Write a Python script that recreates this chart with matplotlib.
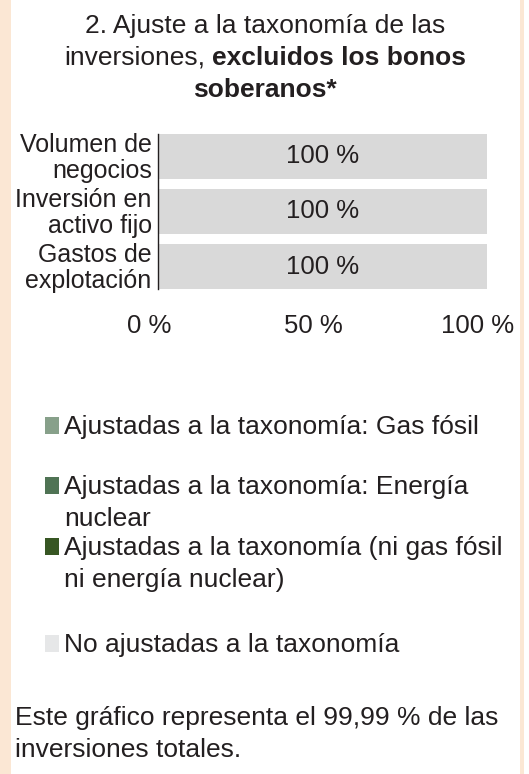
import matplotlib
matplotlib.use("Agg")
import numpy as np
import matplotlib.pyplot as plt
from matplotlib.patches import Rectangle
from matplotlib.transforms import ScaledTranslation

plt.rcParams['font.family'] = ['Liberation Sans', 'DejaVu Sans']

# data
categories = ["Volumen de\nnegocios", "Inversión en\nactivo fijo", "Gastos de\nexplotación"]
gas_fosil = [0, 0, 0]
energia_nuclear = [0, 0, 0]
otras_ajustadas = [0, 0, 0]
no_ajustadas = [100, 100, 100]
xticks = [0, 50, 100]
xtick_labels = ["0 %", "50 %", "100 %"]
legend_labels = [
    ["Ajustadas a la taxonomía: Gas fósil"],
    ["Ajustadas a la taxonomía: Energía", "nuclear"],
    ["Ajustadas a la taxonomía (ni gas fósil", "ni energía nuclear)"],
    ["No ajustadas a la taxonomía"],
]
title_lines = ["2. Ajuste a la taxonomía de las", "inversiones,", "excluidos los bonos", "soberanos*"]
footer_lines = ["Este gráfico representa el 99,99 % de las", "inversiones totales."]

bar_colors = ['#87a08a', '#4f7354', '#375623', '#d9d9d9']
legend_colors = ['#87a08a', '#4f7354', '#375623', '#e6e7e8']
TXT = '#231f20'
BORDER = '#fbe7d4'

W, H = 529, 774


def fx(px):
    return px / W


def fy(py):
    return 1 - py / H


fig = plt.figure(figsize=(W / 100, H / 100), dpi=100)
fig.patch.set_facecolor('white')

# peach side strips
fig.patches.append(Rectangle((0, 0), fx(11), 1, transform=fig.transFigure,
                             facecolor=BORDER, edgecolor='none', zorder=0))
fig.patches.append(Rectangle((fx(520), 0), fx(3.5), 1, transform=fig.transFigure,
                             facecolor=BORDER, edgecolor='none', zorder=0))

# bar chart
ax = fig.add_axes([fx(158), fy(289), fx(329), 155 / H])
y = np.arange(len(categories))
series = [gas_fosil, energia_nuclear, otras_ajustadas, no_ajustadas]
left = np.zeros(len(categories))
for vals, c in zip(series, bar_colors):
    bars = ax.barh(y, vals, left=left, height=0.81, color=c, linewidth=0)
    left += np.array(vals)
ax.bar_label(bars, labels=[f"{v} %" for v in no_ajustadas], label_type='center',
             fontsize=18.5, color=TXT)

ax.set_xlim(0, 100)
ax.set_ylim(2.405, -0.405)
for s in ['top', 'right', 'bottom']:
    ax.spines[s].set_visible(False)
ax.spines['left'].set_color(TXT)
ax.spines['left'].set_linewidth(1.0)

ax.set_yticks(y, categories, fontsize=18, linespacing=1.09, color=TXT)
ax.tick_params(axis='y', length=0, pad=4.5)
ax.set_xticks(xticks, xtick_labels, fontsize=18.5, color=TXT)
ax.tick_params(axis='x', length=0, pad=31.7)

shift_x = ScaledTranslation(-9 / 100, 0, fig.dpi_scale_trans)
for lab in ax.get_xticklabels():
    lab.set_va('baseline')
    lab.set_transform(lab.get_transform() + shift_x)
# baseline of the last line sits a bit below the bar centre
shift_y = ScaledTranslation(0, -21.5 / 100, fig.dpi_scale_trans)
for lab in ax.get_yticklabels():
    lab.set_va('baseline')
    lab.set_transform(lab.get_transform() + shift_y)

# title, with the bold part on line two
fs = 19
cx = 265
fig.text(fx(cx), fy(33), title_lines[0], ha='center', va='baseline', fontsize=fs, color=TXT)
r = fig.canvas.get_renderer()
t_reg = fig.text(0, fy(65), title_lines[1], va='baseline', fontsize=fs, color=TXT)
t_bold = fig.text(0, fy(65), title_lines[2], va='baseline', fontsize=fs,
                  fontweight='bold', color=TXT)
gap = 0.278 * fs * 100 / 72
w1 = t_reg.get_window_extent(r).width
w2 = t_bold.get_window_extent(r).width
x0 = cx - (w1 + gap + w2) / 2
t_reg.set_x(fx(x0))
t_bold.set_x(fx(x0 + w1 + gap))
fig.text(fx(cx), fy(97), title_lines[3], ha='center', va='baseline', fontsize=fs,
         fontweight='bold', color=TXT)

# legend drawn by hand
first_baselines = [434, 494, 555, 652]
pitch = 31.5
for lines, c, b in zip(legend_labels, legend_colors, first_baselines):
    fig.patches.append(Rectangle((fx(45), fy(b)), fx(14), 17 / H, transform=fig.transFigure,
                                 facecolor=c, edgecolor='none'))
    for i, line in enumerate(lines):
        fig.text(fx(64), fy(b + i * pitch), line, va='baseline', fontsize=fs, color=TXT)

# footer
for i, line in enumerate(footer_lines):
    fig.text(fx(15), fy(725 + i * 32), line, va='baseline', fontsize=fs, color=TXT)

fig.savefig('out.png', dpi=100, facecolor='white')
